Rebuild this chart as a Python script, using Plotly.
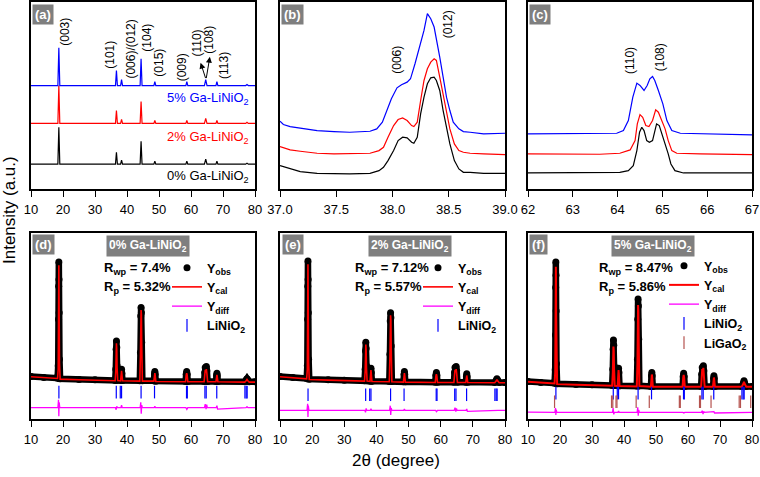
import plotly.graph_objects as go

# ---------------- Panel (a): overview patterns ----------------
XA = [10, 18.4, 18.7, 19.0, 36.4, 36.7, 37.0, 38.0, 38.3, 38.6, 44.1, 44.4, 44.7,
      48.4, 48.7, 49.0, 58.4, 58.7, 59.0, 64.2, 64.6, 65.0, 67.8, 68.1, 68.4,
      77.1, 77.5, 77.9, 80]
A_0 = [25, 25, 62, 25, 25, 37, 25, 25, 29, 25, 25, 48, 25, 25, 28, 25, 25, 28, 25,
       25, 30, 25, 25, 28, 25, 25, 26, 25, 25]
A_2 = [66, 66, 104, 66, 66, 79, 66, 66, 70, 66, 66, 88, 66, 66, 69, 66, 66, 69, 66,
       66, 71, 66, 66, 69, 66, 66, 67, 66, 66]
A_5 = [104, 104, 142, 104, 104, 119, 104, 104, 110, 104, 104, 131, 104, 104, 108, 104,
       104, 108, 104, 104, 110, 104, 104, 108, 104, 104, 105, 104, 104]
A_LABELS = ["(003)", "(101)", "(006)/(012)", "(104)", "(015)", "(009)", "(110)", "(108)", "(113)"]
A_LABEL_X = [20.6, 34.7, 41.2, 46.2, 50.0, 57.1, 61.8, 65.6, 70.1]
A_LABEL_Y = [158, 135, 141, 152, 127, 122, 147, 150, 124]

# ---------------- Panel (b): 37-39 deg ----------------
XB = [37.00, 37.09, 37.18, 37.33, 37.48, 37.62, 37.80, 37.88, 37.92, 37.96, 38.01, 38.05,
      38.09, 38.13, 38.17, 38.19, 38.22, 38.25, 38.28, 38.31, 38.34, 38.37, 38.39, 38.42,
      38.45, 38.48, 38.51, 38.55, 38.59, 38.63, 38.69, 38.81, 39.00]
B_0 = [70, 60, 52, 47, 45, 45, 47, 55, 65, 85, 115, 145, 155, 153, 140, 137, 155, 225, 275,
       315, 333, 335, 325, 295, 235, 185, 135, 85, 60, 50, 50, 47, 47]
B_2 = [127, 117, 113, 107, 105, 105, 107, 115, 125, 155, 190, 208, 213, 205, 190, 187, 200,
       265, 325, 360, 380, 390, 385, 335, 285, 235, 180, 135, 115, 110, 107, 105, 103]
XB5 = [37.00, 37.03, 37.09, 37.18, 37.33, 37.48, 37.62, 37.80, 37.86, 37.91, 37.95, 37.99,
       38.04, 38.08, 38.13, 38.16, 38.20, 38.25, 38.28, 38.31, 38.34, 38.37, 38.40, 38.42,
       38.45, 38.48, 38.51, 38.54, 38.59, 38.63, 38.69, 38.81, 39.00]
B_5 = [203, 193, 187, 182, 175, 172, 170, 173, 180, 200, 235, 270, 303, 312, 320, 330, 375,
       435, 475, 525, 510, 485, 435, 395, 335, 275, 235, 200, 180, 172, 170, 165, 167]

# ---------------- Panel (c): 62-67 deg ----------------
XC0 = [62.00, 62.86, 63.60, 64.05, 64.24, 64.35, 64.43, 64.49, 64.54, 64.59, 64.65, 64.71,
       64.78, 64.83, 64.87, 64.93, 64.99, 65.06, 65.13, 65.19, 65.28, 65.47, 66.22, 67.00]
C_0 = [48, 48, 48, 50, 55, 70, 115, 170, 185, 175, 145, 140, 145, 170, 195, 190, 165, 140,
       105, 75, 55, 48, 48, 48]
XC2 = [62.00, 63.60, 64.05, 64.28, 64.39, 64.44, 64.50, 64.56, 64.63, 64.70, 64.78, 64.85,
       64.91, 64.99, 65.06, 65.13, 65.21, 65.32, 65.84, 67.00]
C_2 = [105, 104, 107, 117, 145, 195, 223, 215, 190, 187, 205, 237, 230, 205, 180, 145, 115,
       107, 105, 103]
XC5 = [62.00, 63.60, 63.98, 64.13, 64.24, 64.34, 64.43, 64.50, 64.59, 64.66, 64.72, 64.78,
       64.83, 64.91, 65.01, 65.10, 65.21, 65.40, 65.99, 67.00]
C_5 = [165, 165, 167, 175, 205, 275, 317, 310, 295, 310, 330, 337, 325, 295, 255, 205, 175,
       167, 165, 162]

# ---------------- Panels (d)-(f): Rietveld refinement ----------------
XR = [10, 14, 18.3, 18.5, 18.6, 18.65, 18.7, 18.75, 18.8, 18.9, 19.1, 25, 30,
      36.3, 36.5, 36.6, 36.7, 36.8, 36.9, 37.1, 38.0, 38.2, 38.3, 38.4, 38.6,
      44.0, 44.2, 44.3, 44.4, 44.5, 44.6, 44.8, 48.4, 48.6, 48.7, 48.8, 49.0,
      58.3, 58.5, 58.65, 58.8, 59.0, 64.1, 64.3, 64.45, 64.6, 64.8, 64.95, 65.2,
      67.8, 68.0, 68.1, 68.2, 68.4, 76.8, 77.3, 77.5, 77.7, 78.2, 80]
D_OBS = [128, 125, 123, 160, 300, 400, 473, 420, 320, 180, 121, 119, 118,
         116, 150, 210, 235, 215, 160, 117, 116, 135, 150, 138, 116,
         115, 200, 310, 336, 320, 230, 115, 115, 135, 143, 135, 114,
         113, 135, 143, 135, 113, 113, 140, 155, 150, 158, 145, 113,
         113, 130, 138, 130, 113, 112, 118, 121, 118, 112, 112]
D_CAL = [127, 124, 122, 150, 290, 400, 463, 415, 310, 170, 120, 118, 117,
         115, 145, 205, 228, 210, 155, 116, 115, 132, 145, 135, 115,
         114, 195, 300, 328, 315, 225, 114, 114, 132, 138, 132, 113,
         112, 132, 138, 132, 112, 112, 135, 148, 140, 150, 138, 112,
         112, 127, 133, 127, 112, 111, 116, 119, 116, 111, 111]
E_OBS = [128, 125, 122, 160, 300, 400, 476, 420, 320, 180, 120, 118, 117,
         115, 150, 205, 231, 212, 160, 115, 114, 138, 153, 140, 114,
         113, 195, 295, 320, 305, 220, 113, 112, 135, 143, 135, 112,
         111, 132, 140, 132, 111, 111, 140, 155, 150, 158, 145, 111,
         111, 128, 136, 128, 111, 110, 117, 121, 117, 110, 110]
E_CAL = [127, 124, 121, 150, 290, 395, 466, 415, 310, 170, 119, 117, 116,
         114, 145, 200, 224, 207, 155, 114, 113, 134, 147, 136, 113,
         112, 190, 288, 312, 298, 215, 112, 111, 132, 138, 132, 111,
         110, 129, 135, 129, 110, 110, 135, 148, 142, 150, 138, 110,
         110, 125, 131, 125, 110, 109, 115, 119, 115, 109, 109]
F_OBS = [113, 110, 108, 148, 253, 396, 473, 433, 325, 166, 106, 104, 103,
         101, 150, 210, 238, 222, 160, 101, 100, 140, 153, 140, 100,
         99, 180, 300, 361, 340, 240, 100, 98, 130, 140, 130, 98,
         98, 128, 138, 128, 98, 98, 135, 155, 150, 160, 145, 98,
         98, 122, 130, 122, 98, 98, 108, 115, 108, 98, 98]
F_CAL = [112, 109, 107, 140, 245, 390, 458, 420, 315, 160, 105, 103, 102,
         100, 140, 195, 218, 205, 150, 100, 99, 135, 147, 135, 99,
         98, 170, 290, 343, 325, 230, 99, 97, 126, 134, 126, 97,
         97, 124, 133, 124, 97, 97, 130, 150, 144, 154, 140, 97,
         97, 118, 125, 118, 97, 97, 106, 112, 106, 97, 97]

XD = [10, 18.4, 18.6, 18.7, 18.8, 19.0, 36.4, 36.6, 36.8, 37.0, 38.1, 38.3, 38.5,
      44.1, 44.3, 44.45, 44.6, 44.8, 48.5, 48.7, 48.9, 58.4, 58.7, 59.0,
      64.2, 64.45, 64.7, 64.9, 65.1, 67.9, 68.1, 68.3, 77.2, 77.5, 77.8, 80]
D_DIFF = [34, 34, 58, 8, 50, 34, 34, 28, 38, 34, 34, 42, 34,
          34, 50, 16, 42, 34, 34, 38, 34, 34, 29, 34,
          34, 45, 30, 43, 34, 34, 40, 30, 34, 37, 34, 34]
E_DIFF = [26, 26, 46, 6, 40, 26, 26, 20, 32, 26, 26, 31, 26,
          26, 40, 12, 33, 26, 26, 30, 26, 26, 22, 26,
          26, 34, 22, 32, 26, 26, 30, 23, 26, 28, 26, 26]
F_DIFF = [21, 20, 33, 12, 28, 20, 20, 33, 14, 20, 20, 24, 20,
          20, 35, 10, 27, 20, 20, 22, 20, 20, 18, 20,
          20, 25, 15, 23, 20, 20, 22, 18, 20, 21, 20, 20]

BRAGG_LINIO2 = [18.72, 36.65, 37.90, 38.30, 44.40, 48.60, 58.60, 58.85, 64.35, 64.75,
                68.05, 76.85, 77.25, 77.55]
BRAGG_LIGAO2 = [18.3, 36.1, 36.5, 37.5, 37.8, 43.8, 47.9, 57.3, 57.6, 63.6, 63.9, 67.2,
                76.0, 76.4, 79.6]

RWP = ["7.4%", "7.12%", "8.47%"]
RP = ["5.32%", "5.57%", "5.86%"]
SAMPLES = ["0% Ga-LiNiO<sub>2</sub>", "2% Ga-LiNiO<sub>2</sub>", "5% Ga-LiNiO<sub>2</sub>"]

# ---------------- styling ----------------
FONT = "Arial, Liberation Sans, sans-serif"
BLACK, RED, BLUE, MAG, BROWN = "#000000", "#ff0000", "#0000ff", "#ff00ff", "#b5534f"
GRAY = "#7f7f7f"
W, H = 760, 477


def px_x(p):
    return p / W


def px_y(p):
    return (H - p) / H


fig = go.Figure()


def line(x, y, color, ax, width=1.2):
    fig.add_trace(go.Scatter(x=x, y=y, mode="lines", line=dict(color=color, width=width),
                             xaxis="x" + ax, yaxis="y" + ax, showlegend=False,
                             hoverinfo="skip"))


# panel a
line(XA, A_0, BLACK, "")
line(XA, A_2, RED, "")
line(XA, A_5, BLUE, "")
# panel b
line(XB, B_0, BLACK, "2")
line(XB, B_2, RED, "2")
line(XB5, B_5, BLUE, "2")
# panel c
line(XC0, C_0, BLACK, "3")
line(XC2, C_2, RED, "3")
line(XC5, C_5, BLUE, "3")

# panels d-f
BRAGG_Y = {"4": 81, "5": 73, "6": 78}
BRAGG2_Y = 52
sets = [("4", D_OBS, D_CAL, D_DIFF, "legend"),
        ("5", E_OBS, E_CAL, E_DIFF, "legend2"),
        ("6", F_OBS, F_CAL, F_DIFF, "legend3")]
for ax, obs, cal, diff, lg in sets:
    xa, ya = "x" + ax, "y" + ax
    fig.add_trace(go.Scatter(x=XR, y=obs, mode="lines", line=dict(color=BLACK, width=6.5),
                             xaxis=xa, yaxis=ya, showlegend=False, hoverinfo="skip"))
    fig.add_trace(go.Scatter(x=XR, y=obs, mode="markers",
                             marker=dict(color=BLACK, size=7), name="Y<sub>obs</sub>",
                             xaxis=xa, yaxis=ya, legend=lg, hoverinfo="skip"))
    fig.add_trace(go.Scatter(x=XR, y=cal, mode="lines",
                             line=dict(color=RED, width=1.6 if ax != "6" else 2),
                             name="Y<sub>cal</sub>", xaxis=xa, yaxis=ya, legend=lg,
                             hoverinfo="skip"))
    fig.add_trace(go.Scatter(x=XD, y=diff, mode="lines", line=dict(color=MAG, width=1.3),
                             name="Y<sub>diff</sub>", xaxis=xa, yaxis=ya, legend=lg,
                             hoverinfo="skip"))
    fig.add_trace(go.Scatter(x=BRAGG_LINIO2, y=[BRAGG_Y[ax]] * len(BRAGG_LINIO2),
                             mode="markers",
                             marker=dict(symbol="line-ns", size=9, color=BLUE,
                                         line=dict(color=BLUE, width=1.2)),
                             name="LiNiO<sub>2</sub>", xaxis=xa, yaxis=ya, legend=lg,
                             hoverinfo="skip"))
    if ax == "6":
        fig.add_trace(go.Scatter(x=BRAGG_LIGAO2, y=[BRAGG2_Y] * len(BRAGG_LIGAO2),
                                 mode="markers",
                                 marker=dict(symbol="line-ns", size=9, color=BROWN,
                                             line=dict(color=BROWN, width=1.2)),
                                 name="LiGaO<sub>2</sub>", xaxis=xa, yaxis=ya, legend=lg,
                                 hoverinfo="skip"))

# ---------------- axes ----------------
axis_common = dict(showline=True, linecolor="black", linewidth=1.5, mirror=True,
                   showgrid=False, zeroline=False, ticks="outside", ticklen=6,
                   tickwidth=1.2, tickcolor="black", automargin=False, ticklabelstandoff=2,
                   tickfont=dict(family=FONT, size=13, color="black"))
yaxis_common = dict(showline=True, linecolor="black", linewidth=1.5, mirror=True,
                    showgrid=False, zeroline=False, showticklabels=False, ticks="",
                    automargin=False)

XL = [(31, 255), (280, 505), (528, 752)]
TOP_Y = (2, 189)
BOT_Y = (233, 419)

layout_axes = {}
xspecs = [dict(range=[10, 80], dtick=10, tick0=10),
          dict(range=[37, 39], dtick=0.5, tick0=37, tickformat=".1f"),
          dict(range=[62, 67], dtick=1, tick0=62)]
yranges_top = [[0, 188], [0, 560], [0, 560]]
for i in range(3):
    n1 = "" if i == 0 else str(i + 1)
    n2 = str(i + 4)
    dom = [px_x(XL[i][0]), px_x(XL[i][1])]
    layout_axes["xaxis" + n1] = dict(axis_common, domain=dom, anchor="y" + n1, **xspecs[i])
    layout_axes["yaxis" + n1] = dict(yaxis_common, domain=[px_y(TOP_Y[1]), px_y(TOP_Y[0])],
                                     anchor="x" + n1, range=yranges_top[i])
    layout_axes["xaxis" + n2] = dict(axis_common, domain=dom, anchor="y" + n2,
                                     range=[10, 80], dtick=10, tick0=10)
    layout_axes["yaxis" + n2] = dict(yaxis_common, domain=[px_y(BOT_Y[1]), px_y(BOT_Y[0])],
                                     anchor="x" + n2, range=[0, 560])

# ---------------- annotations ----------------
ann = []
for t, x, y in zip(A_LABELS, A_LABEL_X, A_LABEL_Y):
    ann.append(dict(x=x, y=y, xref="x", yref="y", text=t, textangle=-90, showarrow=False,
                    xanchor="center", yanchor="middle",
                    font=dict(family=FONT, size=12, color="black")))
ann.append(dict(x=63.0, y=127, ax=64.7, ay=110, xref="x", yref="y", axref="x", ayref="y",
                text="", showarrow=True, arrowhead=2, arrowsize=1.2, arrowwidth=1,
                arrowcolor="black"))
ann.append(dict(x=65.9, y=133, ax=64.7, ay=110, xref="x", yref="y", axref="x", ayref="y",
                text="", showarrow=True, arrowhead=2, arrowsize=1.2, arrowwidth=1,
                arrowcolor="black"))
for t, c, py in zip(SAMPLES[::-1], [BLUE, RED, BLACK], [99, 137, 176]):
    ann.append(dict(x=px_x(251), y=px_y(py), xref="paper", yref="paper", text=t,
                    xanchor="right", yanchor="middle", showarrow=False,
                    font=dict(family=FONT, size=13, color=c)))
for t, x, y, xr in [("(006)", 38.04, 387, "2"), ("(012)", 38.49, 492, "2"),
                    ("(110)", 64.29, 385, "3"), ("(108)", 64.95, 395, "3")]:
    ann.append(dict(x=x, y=y, xref="x" + xr, yref="y" + xr, text=t, textangle=-90,
                    xanchor="center", yanchor="middle", showarrow=False,
                    font=dict(family=FONT, size=12, color="black")))
letters = ["(a)", "(b)", "(c)", "(d)", "(e)", "(f)"]
letter_pos = [(32, 4), (281, 4), (529, 4), (32, 234), (282, 234), (529, 234)]
for t, (lx, ly) in zip(letters, letter_pos):
    ann.append(dict(x=px_x(lx), y=px_y(ly), xref="paper", yref="paper", text="<b>" + t + "</b>",
                    xanchor="left", yanchor="top", showarrow=False, bgcolor=GRAY,
                    borderpad=2, font=dict(family=FONT, size=13, color="white")))
title_cx = [148, 410, 653]
rx = [102, 353, 597]
for i in range(3):
    ann.append(dict(x=px_x(title_cx[i]), y=px_y(235), xref="paper", yref="paper",
                    text="<b>" + SAMPLES[i] + "</b>", xanchor="center", yanchor="top",
                    showarrow=False, bgcolor=GRAY, borderpad=2,
                    font=dict(family=FONT, size=12, color="white")))
    ann.append(dict(x=px_x(rx[i]), y=px_y(268), xref="paper", yref="paper",
                    text="<b>R<sub>wp</sub> = " + RWP[i] + "</b>", xanchor="left",
                    yanchor="middle", showarrow=False,
                    font=dict(family=FONT, size=13, color="black")))
    ann.append(dict(x=px_x(rx[i]), y=px_y(287), xref="paper", yref="paper",
                    text="<b>R<sub>p</sub> = " + RP[i] + "</b>", xanchor="left",
                    yanchor="middle", showarrow=False,
                    font=dict(family=FONT, size=13, color="black")))
ann.append(dict(x=px_x(9), y=px_y(210), xref="paper", yref="paper", text="Intensity (a.u.)",
                textangle=-90, xanchor="center", yanchor="middle", showarrow=False,
                font=dict(family=FONT, size=17, color="black")))
ann.append(dict(x=px_x(396), y=px_y(460), xref="paper", yref="paper", text="2θ (degree)",
                xanchor="center", yanchor="middle", showarrow=False,
                font=dict(family=FONT, size=17, color="black")))

legend_common = dict(bgcolor="rgba(0,0,0,0)", borderwidth=0, xanchor="left", yanchor="top",
                     font=dict(family=FONT, size=12.5, color="black", weight="bold"),
                     tracegroupgap=0, itemwidth=30)

fig.update_layout(
    width=W, height=H, margin=dict(l=0, r=0, t=0, b=0, pad=0, autoexpand=False),
    paper_bgcolor="white", plot_bgcolor="white",
    annotations=ann,
    legend=dict(legend_common, x=px_x(167), y=px_y(253)),
    legend2=dict(legend_common, x=px_x(418), y=px_y(253)),
    legend3=dict(legend_common, x=px_x(664), y=px_y(251)),
    **layout_axes,
)

fig.write_html("out.html")
